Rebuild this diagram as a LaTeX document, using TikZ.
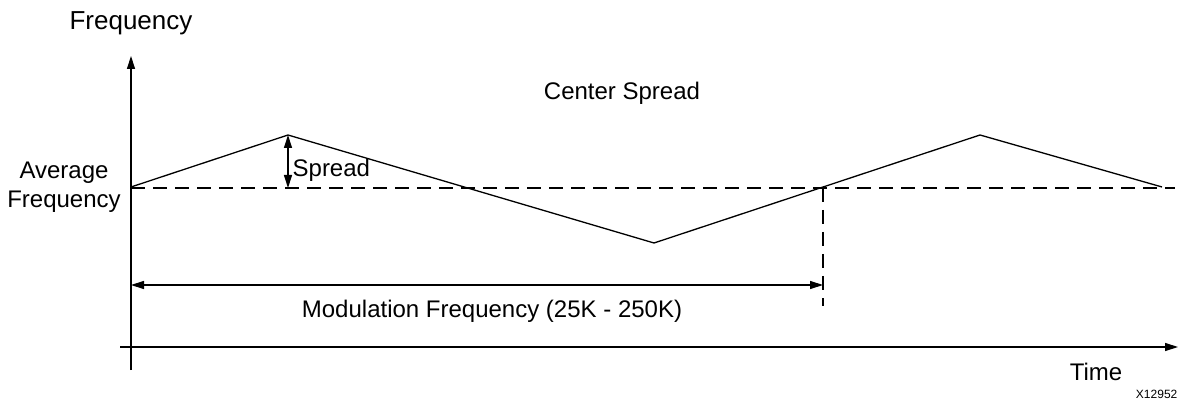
\documentclass[tikz,border=0pt]{standalone}
\usepackage{fontspec}
\setmainfont{Liberation Sans}
\usetikzlibrary{arrows.meta}
\begin{document}
\begin{tikzpicture}[x=1pt,y=-1pt,
  line width=1.3pt,
  lbl/.style={inner sep=0pt,font=\fontsize{24}{29}\selectfont},
  dsh/.style={dash pattern=on 14pt off 8pt},
  tip/.style={-{Triangle[length=13pt,width=8pt]}},
  dtip/.style={{Triangle[length=13pt,width=8pt]}-{Triangle[length=13pt,width=8pt]}}]
\useasboundingbox (0,0) rectangle (1180,403);
% axes
\coordinate (ybot) at (131,370);
\coordinate (ytop) at (131,56);
\coordinate (xl) at (120,347);
\coordinate (xr) at (1178,347);
\draw[tip] (ybot) -- (ytop);
\draw[tip] (xl) -- (xr);
% waveform points
\coordinate (p0) at (131,187);
\coordinate (p1) at (288,135);
\coordinate (p2) at (654,243);
\coordinate (p3) at (980,135);
\coordinate (p4) at (1162,187);
\coordinate (avgL) at (131,188);
\coordinate (avgR) at (1175,188);
\coordinate (sb) at (288,188);
\coordinate (cross) at (823,188);
\coordinate (vbot) at (823,306);
\coordinate (mL) at (131,285);
\coordinate (mR) at (823,285);
\draw[dsh] (avgL) -- (avgR);
\draw[line join=miter] (p0) -- (p1) -- (p2) -- (p3) -- (p4);
\draw[dsh] (cross) -- (vbot);
\draw[dtip] (p1) -- (sb);
\draw[dtip] (mL) -- (mR);
% labels
\node[lbl,font=\fontsize{26}{30}\selectfont] (freq) at (131,23) {Frequency};
\node[lbl] (cs) at (622,93) {Center Spread};
\node[lbl,align=center] (avg) at (64,187) {Average\\Frequency};
\node[lbl,anchor=west] (spread) at (292,170) {Spread};
\node[lbl] (mod) at (492,311) {Modulation Frequency (25K - 250K)};
\node[lbl] (time) at (1096,372) {Time};
\node[inner sep=0pt,font=\fontsize{12}{14}\selectfont,anchor=east] (id) at (1178,394) {X12952};
\end{tikzpicture}
\end{document}
